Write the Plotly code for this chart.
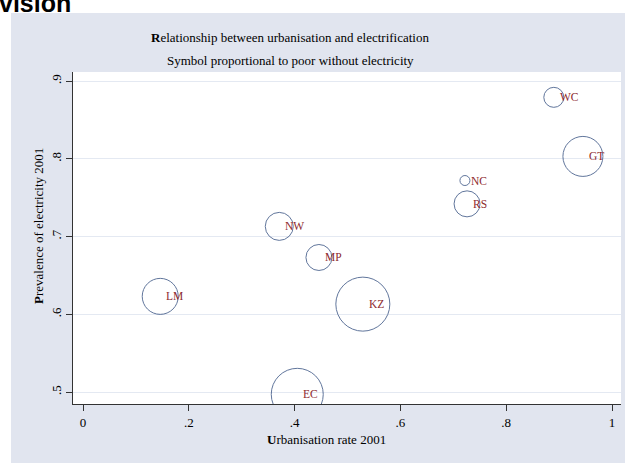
import numpy as np
import plotly.graph_objects as go

# ---- data ----
provinces = ["WC", "GT", "NC", "RS", "NW", "MP", "LM", "KZ", "EC"]
urbanisation = [0.890, 0.945, 0.722, 0.726, 0.371, 0.446, 0.146, 0.529, 0.405]
electricity = [0.879, 0.803, 0.772, 0.742, 0.713, 0.673, 0.623, 0.613, 0.497]
poor_without_electricity = [100, 400, 25, 169, 196, 169, 324, 729, 676]

x_tickvals = [0, 0.2, 0.4, 0.6, 0.8, 1.0]
x_ticktext = ["0", ".2", ".4", ".6", ".8", "1"]
y_tickvals = [0.5, 0.6, 0.7, 0.8, 0.9]
y_ticktext = [".5", ".6", ".7", ".8", ".9"]

title_text = "<b>R</b>elationship between urbanisation and electrification"
subtitle_text = "Symbol proportional to poor without electricity"
x_title = "<b>U</b>rbanisation rate 2001"
y_title = "<b>P</b>revalence of electricity 2001"

# ---- layout geometry ----
W, H = 625, 463
L, R, T, B = 73, 4, 72, 59
pw, ph = W - L - R, H - T - B


def px_x(p):
    return (p - L) / pw


def px_y(p):
    return (H - B - p) / ph


SERIF = "Liberation Serif, Times New Roman, serif"
PANEL = "#e1e5ef"
GRID = "#e4e9f2"
NAVY = "#1f3d73"
MAROON = "#8e2a2e"

sizes = [2 * np.sqrt(v) for v in poor_without_electricity]

fig = go.Figure()
fig.add_trace(go.Scatter(
    x=urbanisation, y=electricity, mode="markers",
    marker=dict(size=sizes, sizemode="diameter", color="rgba(0,0,0,0)",
                line=dict(color=NAVY, width=1)),
    hoverinfo="skip", showlegend=False,
))

annotations = []
for p, xv, yv in zip(provinces, urbanisation, electricity):
    annotations.append(dict(x=xv, y=yv, xref="x", yref="y", text=p,
                            showarrow=False, xanchor="left", yanchor="middle",
                            xshift=4, font=dict(family=SERIF, size=11.5, color=MAROON)))

annotations += [
    dict(x=px_x(290), y=px_y(37), xref="paper", yref="paper", text=title_text,
         showarrow=False, xanchor="center", yanchor="middle",
         font=dict(family=SERIF, size=13, color="black")),
    dict(x=px_x(290), y=px_y(60), xref="paper", yref="paper", text=subtitle_text,
         showarrow=False, xanchor="center", yanchor="middle",
         font=dict(family=SERIF, size=13, color="black")),
    dict(x=px_x(326), y=px_y(439), xref="paper", yref="paper", text=x_title,
         showarrow=False, xanchor="center", yanchor="middle",
         font=dict(family=SERIF, size=13, color="black")),
    dict(x=px_x(38), y=px_y(226), xref="paper", yref="paper", text=y_title,
         showarrow=False, xanchor="center", yanchor="middle", textangle=-90,
         font=dict(family=SERIF, size=13, color="black")),
    dict(x=px_x(-2), y=px_y(18), xref="paper", yref="paper", text="<b>vision</b>",
         showarrow=False, xanchor="left", yanchor="bottom", borderpad=0,
         font=dict(family="Liberation Sans, Arial, sans-serif", size=25, color="black")),
]

shapes = [
    dict(type="rect", xref="paper", yref="paper", layer="below",
         x0=px_x(11), x1=px_x(W + 2), y0=px_y(H + 2), y1=px_y(13),
         fillcolor=PANEL, line=dict(width=0)),
    dict(type="rect", xref="paper", yref="paper", layer="below",
         x0=0, x1=1, y0=0, y1=1, fillcolor="white", line=dict(width=0)),
]

fig.update_layout(
    width=W, height=H,
    margin=dict(l=L, r=R, t=T, b=B, pad=0),
    paper_bgcolor="white", plot_bgcolor="white",
    annotations=annotations, shapes=shapes,
    xaxis=dict(range=[(73 - 83) / 529, (621 - 83) / 529], tickvals=x_tickvals,
               ticktext=x_ticktext, showgrid=False, zeroline=False,
               showline=True, linecolor="#333333", linewidth=1,
               ticks="outside", ticklen=6, tickcolor="#333333",
               tickfont=dict(family=SERIF, size=13, color="black")),
    yaxis=dict(range=[0.5 - 12 / 777.5, 0.9 + 9 / 777.5], tickvals=y_tickvals,
               ticktext=y_ticktext, showgrid=True, gridcolor=GRID, gridwidth=1,
               zeroline=False, showline=True, linecolor="#333333", linewidth=1,
               ticks="outside", ticklen=6, tickcolor="#333333", tickangle=-90,
               tickfont=dict(family=SERIF, size=13, color="black")),
)

fig.write_html("out.html")
